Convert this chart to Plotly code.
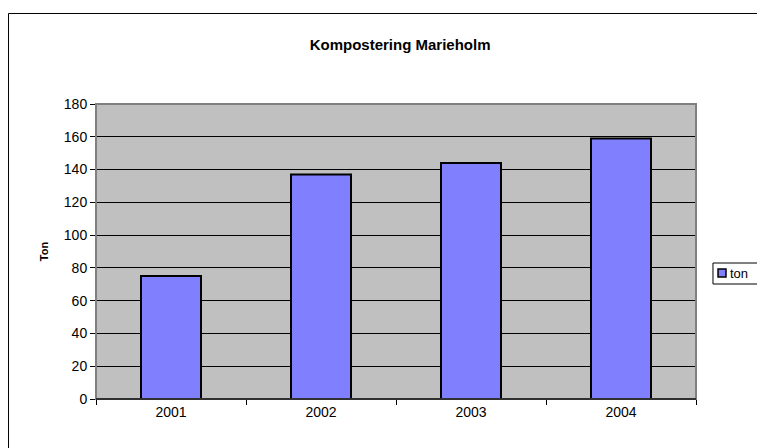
import plotly.graph_objects as go

years = ["2001", "2002", "2003", "2004"]
ton = [75, 137, 144, 159]
y_ticks = [0, 20, 40, 60, 80, 100, 120, 140, 160, 180]
series_name = "ton"
bar_color = "#8080FF"

fig = go.Figure()
fig.add_trace(
    go.Bar(
        x=years,
        y=ton,
        name=series_name,
        showlegend=False,
        marker=dict(color=bar_color, line=dict(color="black", width=2)),
    )
)

# the page body has an 8px margin, so the figure is shrunk by that amount
fig.update_layout(
    width=757,
    height=440,
    margin=dict(l=88, r=69, t=96, b=49),
    paper_bgcolor="white",
    plot_bgcolor="#C0C0C0",
    font=dict(family="Liberation Sans, Arial", size=14, color="black"),
    bargap=0.6,
    title=dict(
        text="<b>Kompostering Marieholm</b>",
        font=dict(size=15, color="black"),
        xref="container", x=0.518, xanchor="center",
        yref="container", y=0.916, yanchor="middle",
    ),
)

fig.update_xaxes(
    type="category",
    showline=True, linecolor="black", linewidth=1,
    ticks="outside", tickson="boundaries", ticklen=5, tickcolor="black",
    showgrid=False,
)
fig.update_yaxes(
    range=[0, 180],
    tickvals=y_ticks,
    showline=True, linecolor="#808080", linewidth=1,
    ticks="outside", ticklen=5, tickcolor="black",
    showgrid=True, gridcolor="black", gridwidth=1,
    zeroline=False,
    title=dict(text="<b>Ton</b>", font=dict(size=11), standoff=12),
)

# plot area frame (gray) and the outer chart border
fig.add_shape(type="rect", xref="paper", yref="paper", x0=0, y0=0, x1=1, y1=1,
              line=dict(color="#808080", width=2), layer="above")
fig.add_shape(type="line", xref="paper", yref="paper", x0=0, y0=0, x1=1, y1=0,
              line=dict(color="#303030", width=2), layer="above")
fig.add_shape(type="rect", xref="paper", yref="paper",
              x0=-0.1458, y0=-1, x1=2, y1=1.3068,
              line=dict(color="black", width=1), layer="below")

# compact Excel-style legend box at the right edge
fig.add_shape(type="rect", xref="paper", yref="paper",
              x0=1.0283, y0=0.3898, x1=1.2, y1=0.461,
              line=dict(color="black", width=1), fillcolor="white")
fig.add_shape(type="rect", xref="paper", yref="paper",
              x0=1.0367, y0=0.4136, x1=1.05, y1=0.4407,
              line=dict(color="black", width=1.5), fillcolor=bar_color)
fig.add_annotation(text=series_name, xref="paper", yref="paper",
                   x=1.053, y=0.4271, xanchor="left", yanchor="middle",
                   showarrow=False, font=dict(size=13))

fig.write_html("out.html")
